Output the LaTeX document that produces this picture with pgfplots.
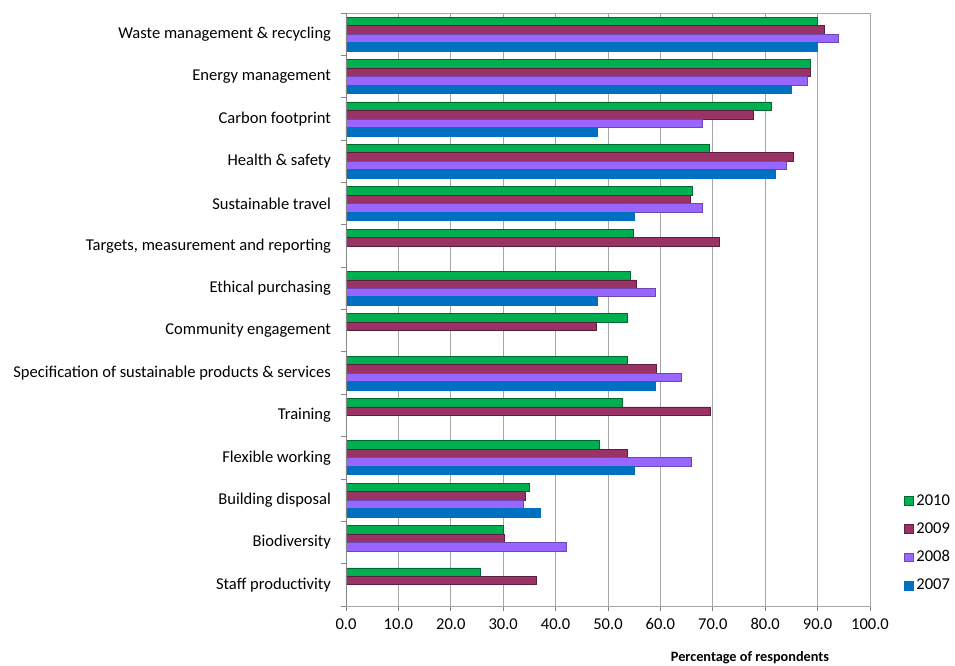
\documentclass[border=0pt]{standalone}
\usepackage{pgfplots}
\pgfplotsset{compat=1.18}
\usepackage{fontspec}
\setmainfont{Carlito}
\definecolor{c2010}{HTML}{00B050}
\definecolor{c2009}{HTML}{993366}
\definecolor{c2008}{HTML}{9966FF}
\definecolor{c2007}{HTML}{0070C0}
\definecolor{gridc}{HTML}{A6A6A6}
\definecolor{axc}{HTML}{868686}
\begin{document}
\begin{tikzpicture}
\begin{axis}[
  scale only axis, width=393pt, height=444.75pt,
  xbar, bar width=0.2,
  xmin=0, xmax=100, ymin=-0.5, ymax=13.5, y dir=reverse,
  xtick={0,10,...,100},
  ytick={0,...,13},
  yticklabels={Waste management \& recycling, Energy management, Carbon footprint, Health \& safety, Sustainable travel, {Targets, measurement and reporting}, Ethical purchasing, Community engagement, Specification of sustainable products \& services, Training, Flexible working, Building disposal, Biodiversity, Staff productivity},
  minor ytick={-0.5,0.5,...,13.5},
  major y tick style={draw=none},
  minor tick length=3.75pt, major tick length=3.75pt,
  tick align=outside,
  xtick pos=bottom, ytick pos=left,
  xmajorgrids, grid style={gridc, line width=0.6pt},
  axis line style={gridc, line width=0.6pt},
  tick style={axc, line width=0.6pt},
  /pgf/number format/.cd, fixed, fixed zerofill, precision=1, assume math mode=true, /pgfplots/.cd,
  tick label style={font=\fontsize{12.4}{14}\selectfont},
  yticklabel style={xshift=-4pt},
  xticklabel style={yshift=-2pt},
  xlabel={Percentage of respondents},
  xlabel style={at={(axis description cs:0.771,0)}, anchor=center, yshift=-39pt, font=\bfseries\fontsize{10.7}{12}\selectfont},
  legend style={at={(axis description cs:1.065,0.193)}, anchor=north west, draw=none, fill=none, row sep=7.5pt, font=\fontsize{12.4}{14}\selectfont, inner sep=0pt},
  legend cell align=left,
  legend image code/.code={\draw[#1] (0pt,-3.2pt) rectangle (6.6pt,3.2pt);},
]
\addplot[fill=c2010, draw=c2010!60!black, line width=0.5pt, bar shift=-0.3] coordinates {
(89.9,0) (88.7,1) (81.2,2) (69.3,3) (66.0,4) (54.8,5) (54.2,6) (53.7,7) (53.7,8) (52.8,9) (48.3,10) (34.9,11) (30.0,12) (25.7,13)};
\addplot[fill=c2009, draw=c2009!60!black, line width=0.5pt, bar shift=-0.1] coordinates {
(91.3,0) (88.6,1) (77.7,2) (85.4,3) (65.7,4) (71.2,5) (55.4,6) (47.8,7) (59.2,8) (69.5,9) (53.7,10) (34.2,11) (30.3,12) (36.4,13)};
\addplot[fill=c2008, draw=c2008!70!black, line width=0.5pt, bar shift=0.1] coordinates {
(94.0,0) (88.0,1) (68.0,2) (84.0,3) (68.0,4) (59.0,6) (64.0,8) (65.9,10) (33.9,11) (42.0,12)};
\addplot[fill=c2007, draw=c2007, line width=0.5pt, bar shift=0.3] coordinates {
(90.0,0) (85.0,1) (48.0,2) (82.0,3) (55.1,4) (48.0,6) (59.0,8) (55.1,10) (37.0,11)};
\legend{2010,2009,2008,2007}
\draw[axc, line width=0.6pt] (axis description cs:0,0) -- (axis description cs:0,1);
\coordinate (bl) at (axis description cs:0,0);
\end{axis}
\pgfresetboundingbox
\path (bl) ++(-346*0.75pt,-60*0.75pt) rectangle ++(955*0.75pt,666*0.75pt);
\end{tikzpicture}
\end{document}
